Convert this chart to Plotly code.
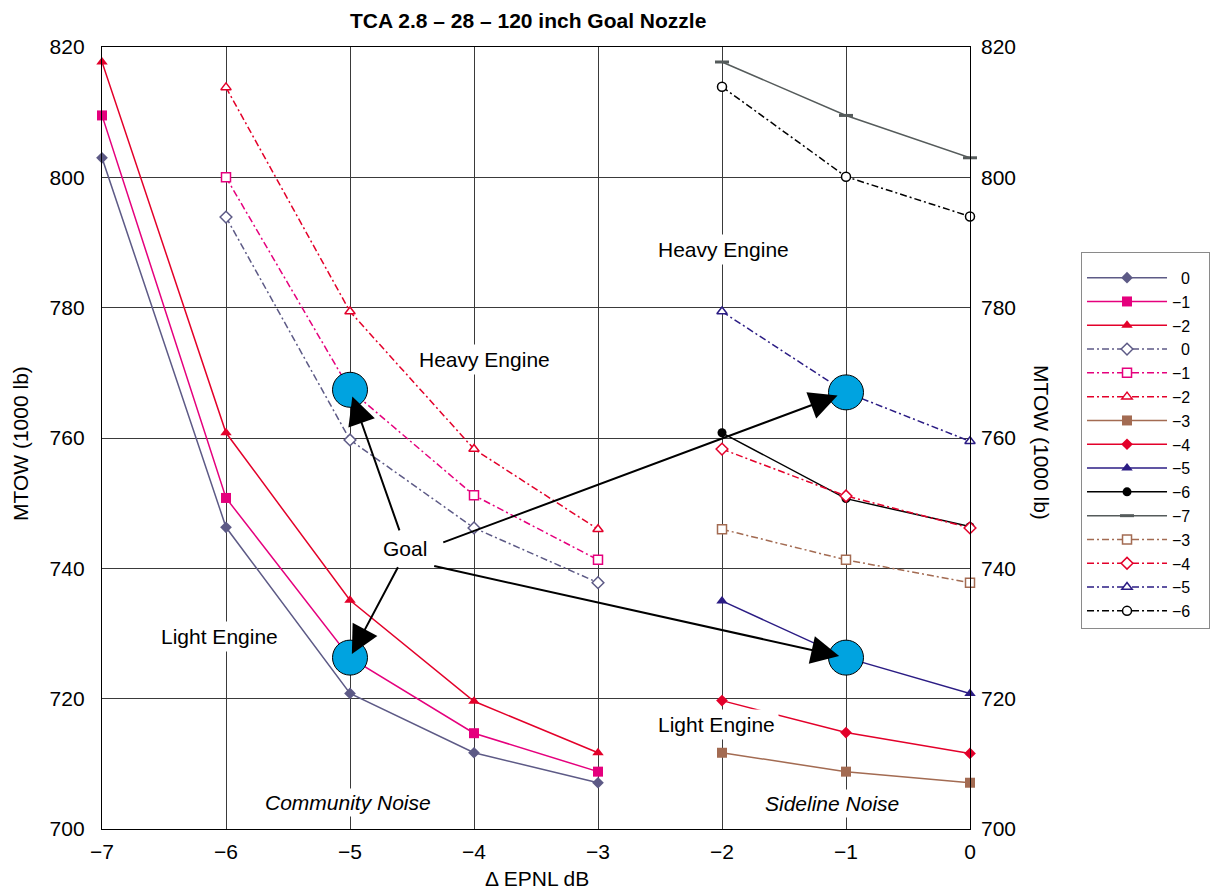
import plotly.graph_objects as go

# ---- data: MTOW (1000 lb) against delta EPNL (dB) ----
x_comm_light = [-7, -6, -5, -4, -3]
light_0 = [803.0, 746.3, 720.8, 711.7, 707.1]
light_m1 = [809.5, 750.8, 726.3, 714.7, 708.8]
light_m2 = [817.7, 760.8, 735.1, 719.6, 711.7]

x_comm_heavy = [-6, -5, -4, -3]
heavy_0 = [793.9, 759.7, 746.2, 737.8]
heavy_m1 = [800.0, 767.4, 751.2, 741.3]
heavy_m2 = [813.8, 779.4, 758.3, 746.0]

x_side = [-2, -1, 0]
side_m3 = [711.7, 708.8, 707.1]
side_m4 = [719.7, 714.8, 711.6]
side_m5 = [735.0, 726.3, 720.8]
side_m6 = [760.8, 750.7, 746.4]
side_m7 = [817.7, 809.5, 803.0]
side_heavy_m3 = [746.0, 741.3, 737.8]
side_heavy_m4 = [758.3, 751.1, 746.2]
side_heavy_m5 = [779.4, 767.0, 759.5]
side_heavy_m6 = [813.9, 800.1, 794.0]

goal_x = [-5, -5, -1, -1]
goal_y = [767.4, 726.3, 767.0, 726.3]
# tails of the "Goal" arrows (same order as goal points)
arrow_tail_x = [-4.597, -4.607, -4.260, -4.333]
arrow_tail_y = [745.6, 740.4, 743.9, 740.4]
arrow_standoff = [7, 4, 9, 7]

x_ticks = [-7, -6, -5, -4, -3, -2, -1, 0]
y_ticks = [700, 720, 740, 760, 780, 800, 820]

FONT = "Liberation Sans, Arial, Helvetica, sans-serif"
SLATE = "#5D5A86"
MAGENTA = "#E5007D"
RED = "#E3002A"
BROWN = "#A36B52"
NAVY = "#2B1C84"
BLACK = "#000000"
GREY = "#555B5B"
DASH = "7px,3px,2px,3px"
NB = "\u00a0\u00a0"
TRAIL = "\u00a0\u00a0\u00a0"

fig = go.Figure()


def solid(name, x, y, color, symbol, size=9):
    fig.add_trace(go.Scatter(
        x=x, y=y, name=name + TRAIL, mode="lines+markers", cliponaxis=False,
        line=dict(color=color, width=1.5),
        marker=dict(symbol=symbol, size=size, color=color,
                    line=dict(color=color, width=0)),
    ))


def dashed(name, x, y, color, symbol, size=8):
    fig.add_trace(go.Scatter(
        x=x, y=y, name=name + TRAIL, mode="lines+markers", cliponaxis=False,
        line=dict(color=color, width=1.5, dash=DASH),
        marker=dict(symbol=symbol, size=size, color="white",
                    line=dict(color=color, width=1.5)),
    ))


solid(NB + "0", x_comm_light, light_0, SLATE, "diamond", 9)
solid("−1", x_comm_light, light_m1, MAGENTA, "square", 10)
solid("−2", x_comm_light, light_m2, RED, "triangle-up", 10)
dashed(NB + "0", x_comm_heavy, heavy_0, SLATE, "diamond", 9)
dashed("−1", x_comm_heavy, heavy_m1, MAGENTA, "square", 9)
dashed("−2", x_comm_heavy, heavy_m2, RED, "triangle-up", 9)
solid("−3", x_side, side_m3, BROWN, "square", 10)
solid("−4", x_side, side_m4, RED, "diamond", 9)
solid("−5", x_side, side_m5, NAVY, "triangle-up", 10)
solid("−6", x_side, side_m6, BLACK, "circle", 9)
fig.add_trace(go.Scatter(
    x=x_side, y=side_m7, name="−7" + TRAIL, mode="lines+markers", cliponaxis=False,
    line=dict(color=GREY, width=1.5),
    marker=dict(symbol="line-ew", size=10, color=GREY,
                line=dict(color=GREY, width=3)),
))
dashed("−3", x_side, side_heavy_m3, BROWN, "square", 9)
dashed("−4", x_side, side_heavy_m4, RED, "diamond", 9)
dashed("−5", x_side, side_heavy_m5, NAVY, "triangle-up", 9)
dashed("−6", x_side, side_heavy_m6, BLACK, "circle", 9)

# goal design points
fig.add_trace(go.Scatter(
    x=goal_x, y=goal_y, mode="markers", showlegend=False, cliponaxis=False,
    marker=dict(symbol="circle", size=35, color="#00A3E0",
                line=dict(color="black", width=1)),
))

annotations = []
for gx, gy, tx, ty, so in zip(goal_x, goal_y, arrow_tail_x, arrow_tail_y, arrow_standoff):
    annotations.append(dict(
        x=gx, y=gy, ax=tx, ay=ty, xref="x", yref="y", axref="x", ayref="y",
        text="", showarrow=True, arrowhead=2, arrowsize=2.8, arrowwidth=2,
        arrowcolor="black", standoff=so,
    ))


def label(text, x, y, italic=False, pad=3):
    annotations.append(dict(
        x=x, y=y, xref="x", yref="y", showarrow=False,
        xanchor="center", yanchor="middle",
        text=f"<i>{text}</i>" if italic else text,
        font=dict(family=FONT, size=21, color="black"),
        bgcolor="white", borderpad=pad,
    ))


label("Goal", -4.556, 743.0, pad=1)
label("Heavy Engine", -3.919, 772.1)
label("Heavy Engine", -1.984, 788.9)
label("Light Engine", -6.056, 729.5)
label("Light Engine", -2.048, 716.0)
label("Community Noise", -5.016, 704.1, italic=True, pad=2)
label("Sideline Noise", -1.115, 703.9, italic=True, pad=2)


def paper_text(text, x, y, angle=0, size=21):
    annotations.append(dict(
        x=x, y=y, xref="paper", yref="paper", showarrow=False,
        xanchor="center", yanchor="middle", textangle=angle, text=text,
        font=dict(family=FONT, size=size, color="black"),
    ))


paper_text("<b>TCA 2.8 – 28 – 120 inch Goal Nozzle</b>", 0.4908, 1.0345, size=21)
paper_text("Δ EPNL dB", 0.5012, -0.0627)
paper_text("MTOW (1000 lb)", -0.0945, 0.4936, angle=-90)
paper_text("MTOW (1000 lb)", 1.0829, 0.4936, angle=90)

axis_font = dict(family=FONT, size=21, color="black")
fig.update_layout(
    width=1214, height=892,
    margin=dict(l=102, r=244, t=47, b=63, autoexpand=False),
    paper_bgcolor="white", plot_bgcolor="white",
    font=dict(family=FONT, color="black"),
    showlegend=True,
    legend=dict(
        x=1.1279, y=0.7379, xanchor="left", yanchor="top",
        bordercolor="#8A8A8A", borderwidth=1, bgcolor="white",
        font=dict(family=FONT, size=16, color="black"),
        itemwidth=80, tracegroupgap=0,
        title=dict(text="\u00a0", font=dict(size=6)),
    ),
    xaxis=dict(
        range=[-7, 0], tickvals=x_ticks, showgrid=True, gridcolor="#3A3A3A",
        gridwidth=1, zeroline=False, showline=True, linecolor="black",
        linewidth=1.3, mirror=True, ticks="", tickfont=axis_font,
        ticklabelstandoff=4,
    ),
    yaxis=dict(
        range=[700, 820], tickvals=y_ticks, showgrid=True, gridcolor="#3A3A3A",
        gridwidth=1, zeroline=False, showline=True, linecolor="black",
        linewidth=1.3, mirror=True, ticks="", tickfont=axis_font,
        ticklabelstandoff=12,
    ),
    yaxis2=dict(
        range=[700, 820], tickvals=y_ticks, overlaying="y", side="right",
        showgrid=False, zeroline=False, showline=False, ticks="",
        tickfont=axis_font, ticklabelstandoff=10,
    ),
    annotations=annotations,
)

# invisible trace that carries the right-hand axis
fig.add_trace(go.Scatter(x=[-7], y=[700], yaxis="y2", mode="markers",
                         marker=dict(opacity=0), showlegend=False,
                         hoverinfo="skip"))

fig.write_html("out.html")
